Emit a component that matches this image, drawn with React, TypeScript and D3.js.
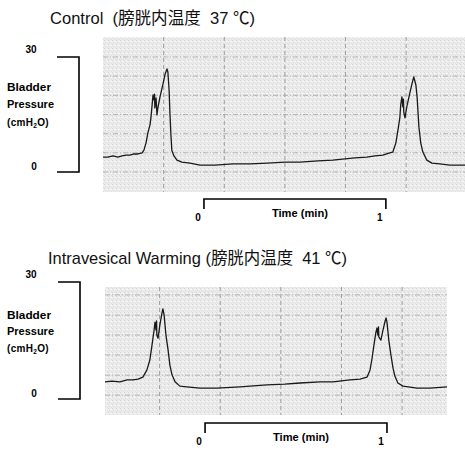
import React from "react";
import * as d3 from "d3";

// ---- data (seconds, cmH2O) ----
const controlTime = [0, 1.6, 3.3, 4.9, 6.3, 7.6, 8.9, 10.2, 11.5, 12.9, 13.5, 14.2, 14.8, 15.5, 15.8, 16.2, 16.5, 16.8, 17.0, 17.1, 17.5, 17.8, 18.1, 18.8, 19.8, 20.4, 21.1, 21.4, 21.8, 22.1, 22.4, 22.7, 23.4, 24.4, 26.0, 28.7, 32.0, 36.9, 42.9, 48.5, 54.1, 60.0, 65.0, 70.9, 75.8, 79.8, 83.1, 87.0, 89.7, 92.3, 94.6, 95.6, 96.6, 97.3, 97.9, 98.2, 98.6, 98.9, 99.1, 99.2, 99.6, 100.2, 101.2, 101.9, 102.5, 103.2, 103.6, 104.2, 104.8, 105.5, 106.8, 108.5, 111.1, 114.4, 119.4];
const controlPressure = [3.9, 3.9, 4.2, 3.9, 4.2, 4.4, 4.4, 4.7, 4.7, 5.0, 5.7, 7.6, 10.2, 12.3, 14.1, 17.5, 20.1, 18.8, 20.3, 16.7, 19.3, 14.9, 16.7, 19.6, 23.0, 25.3, 26.9, 26.1, 21.4, 14.9, 9.7, 5.7, 4.2, 3.1, 2.6, 2.3, 1.8, 1.8, 2.1, 2.1, 2.3, 2.6, 2.6, 2.9, 3.1, 3.4, 3.7, 3.9, 4.2, 4.4, 5.0, 5.2, 7.6, 11.0, 14.1, 17.5, 19.6, 17.0, 19.0, 15.7, 14.1, 17.0, 20.6, 23.0, 24.8, 22.7, 19.6, 11.7, 7.6, 5.2, 3.1, 2.3, 2.1, 1.8, 1.8];

const warmTime = [2, 4.3, 6.9, 9.3, 11.2, 12.9, 14.5, 15.8, 16.8, 17.5, 18.2, 18.5, 18.8, 19.0, 19.1, 19.5, 20.1, 20.8, 21.1, 21.5, 22.1, 22.8, 23.4, 24.1, 25.1, 26.7, 29.0, 33.3, 38.9, 46.5, 55.4, 61.3, 66.3, 72.9, 77.2, 82.8, 86.1, 88.4, 89.4, 90.0, 90.7, 91.3, 91.7, 92.0, 92.2, 92.3, 93.0, 93.7, 94.4, 94.7, 95.0, 95.6, 96.3, 97.0, 97.6, 98.6, 100.3, 104.9, 109.2, 114.8];
const warmPressure = [4.4, 4.6, 4.4, 4.9, 4.9, 5.1, 5.6, 7.4, 10.0, 13.8, 17.7, 19.7, 17.7, 20.0, 16.4, 15.6, 19.0, 22.1, 23.1, 21.5, 16.4, 12.6, 8.7, 6.2, 4.4, 3.3, 3.1, 2.8, 2.8, 3.1, 3.6, 3.8, 4.1, 4.4, 4.4, 4.9, 5.1, 5.6, 7.4, 10.0, 13.8, 16.9, 18.2, 16.4, 18.5, 15.9, 15.1, 17.7, 20.0, 20.8, 19.7, 15.1, 11.3, 7.9, 5.9, 4.1, 3.3, 2.8, 2.8, 3.1];

const gridTimes = [20, 40, 60, 80, 100];
const controlGridPressure = [0, 5, 10, 15, 20, 25, 30];
const warmGridPressure = [1.0, 6.1, 11.3, 16.4, 21.5, 26.7];
const pressureBar = [0, 30];
const pressureBarLabels = ["0", "30"];
const controlTimeBar = [33.3, 93.3];
const warmTimeBar = [35, 95];
const timeBarLabels = ["0", "1"];
const titles = ["Control  (膀胱内温度  37 ℃)", "Intravesical Warming (膀胱内温度  41 ℃)"];
const yLabelLines = ["Bladder", "Pressure"];
const timeLabel = "Time (min)";

const FONT = "'Liberation Sans', Arial, 'Noto Sans CJK JP', sans-serif";

type PanelProps = {
  time: number[];
  pressure: number[];
  tDomain: [number, number];
  xRange: [number, number];
  yRange: [number, number];
  gray: { x0: number; x1: number; y0: number; y1: number };
  gridP: number[];
  timeBar: number[];
  timeBarY: number;
  barX: [number, number];
  title: string;
  titleX: number;
  titleY: number;
  titleLen: number;
  labelYs: number[];
};

function Panel(p: PanelProps) {
  const x = d3.scaleLinear().domain(p.tDomain).range(p.xRange);
  const y = d3.scaleLinear().domain([0, 30]).range(p.yRange);
  const pts = p.time.map((t, i) => [t, p.pressure[i]] as [number, number]);
  const line = d3
    .line<[number, number]>()
    .x((d) => x(d[0]))
    .y((d) => y(d[1]));
  const g = p.gray;
  const tb0 = x(p.timeBar[0]);
  const tb1 = x(p.timeBar[1]);
  return (
    <g>
      <text x={p.titleX} y={p.titleY} fontFamily={FONT} fontSize={17} textLength={p.titleLen} lengthAdjust="spacingAndGlyphs" fill="#111" style={{ whiteSpace: "pre" }}>
        {p.title}
      </text>
      <rect x={g.x0} y={g.y0} width={g.x1 - g.x0} height={g.y1 - g.y0} fill="url(#speckle)" />
      {gridTimes.map((t) => (
        <line key={"v" + t} x1={x(t)} x2={x(t)} y1={g.y0} y2={g.y1} stroke="#8a8a8a" strokeWidth={0.8} strokeDasharray="4 3" />
      ))}
      {p.gridP.map((v) => (
        <line key={"h" + v} x1={g.x0} x2={g.x1} y1={y(v)} y2={y(v)} stroke="#a6a6a6" strokeWidth={0.8} strokeDasharray="5 2 1 2" />
      ))}
      <path d={line(pts) || ""} fill="none" stroke="#1a1a1a" strokeWidth={1.3} strokeLinejoin="round" />
      <path
        d={`M${p.barX[0]},${y(pressureBar[1])}H${p.barX[1]}V${y(pressureBar[0])}H${p.barX[0]}`}
        fill="none"
        stroke="#000"
        strokeWidth={1.6}
      />
      {pressureBar.map((v, i) => (
        <text key={"pb" + i} x={v === 0 ? 34 : 31} y={y(v) + (v === 0 ? -2 : -4)} fontFamily={FONT} fontWeight="bold" fontSize={10} textAnchor="middle" fill="#000">
          {pressureBarLabels[i]}
        </text>
      ))}
      {yLabelLines.map((s, i) => (
        <text key={s} x={7} y={p.labelYs[i]} fontFamily={FONT} fontWeight="bold" fontSize={10} textLength={i === 0 ? 44 : 47} lengthAdjust="spacingAndGlyphs" fill="#000">
          {s}
        </text>
      ))}
      <text x={7} y={p.labelYs[2]} fontFamily={FONT} fontWeight="bold" fontSize={10} letterSpacing={0.3} fill="#000">
        (cmH<tspan fontSize={6.5} dy={2}>2</tspan>
        <tspan dy={-2}>O)</tspan>
      </text>
      <path
        d={`M${tb0},${p.timeBarY + 10}V${p.timeBarY}H${tb1}V${p.timeBarY + 10}`}
        fill="none"
        stroke="#000"
        strokeWidth={1.6}
      />
      {p.timeBar.map((t, i) => (
        <text key={"tb" + i} x={x(t) - 6} y={p.timeBarY + 22} fontFamily={FONT} fontWeight="bold" fontSize={10} textAnchor="middle" fill="#000">
          {timeBarLabels[i]}
        </text>
      ))}
      <text x={(tb0 + tb1) / 2 + 5} y={p.timeBarY + 18} fontFamily={FONT} fontWeight="bold" fontSize={10} textAnchor="middle" textLength={56} lengthAdjust="spacingAndGlyphs" fill="#000">
        {timeLabel}
      </text>
    </g>
  );
}

export default function App() {
  return (
    <svg width={465} height={450} style={{ position: "absolute", left: 0, top: 0, background: "#fff" }}>
      <defs>
        <pattern id="speckle" width={4} height={4} patternUnits="userSpaceOnUse">
          <rect width={4} height={4} fill="#ebebeb" />
          <rect x={0} y={0} width={1} height={1} fill="#d8d8d8" />
          <rect x={2} y={1} width={1} height={1} fill="#f7f7f7" />
          <rect x={1} y={2} width={1} height={1} fill="#dbdbdb" />
          <rect x={3} y={3} width={1} height={1} fill="#dfdfdf" />
          <rect x={3} y={1} width={1} height={1} fill="#f4f4f4" />
        </pattern>
      </defs>
      <Panel
        time={controlTime}
        pressure={controlPressure}
        tDomain={[0, 119.4]}
        xRange={[103, 465]}
        yRange={[172, 57]}
        gray={{ x0: 103, x1: 465, y0: 37, y1: 192 }}
        gridP={controlGridPressure}
        timeBar={controlTimeBar}
        timeBarY={199}
        barX={[57, 79]}
        title={titles[0]}
        titleX={50}
        titleY={24}
        titleLen={205}
        labelYs={[91, 108, 126]}
      />
      <Panel
        time={warmTime}
        pressure={warmPressure}
        tDomain={[2, 114.8]}
        xRange={[105, 447]}
        yRange={[399, 282]}
        gray={{ x0: 105, x1: 447, y0: 287, y1: 415 }}
        gridP={warmGridPressure}
        timeBar={warmTimeBar}
        timeBarY={423}
        barX={[58, 80]}
        title={titles[1]}
        titleX={48}
        titleY={264}
        titleLen={299}
        labelYs={[319, 335, 352]}
      />
    </svg>
  );
}
